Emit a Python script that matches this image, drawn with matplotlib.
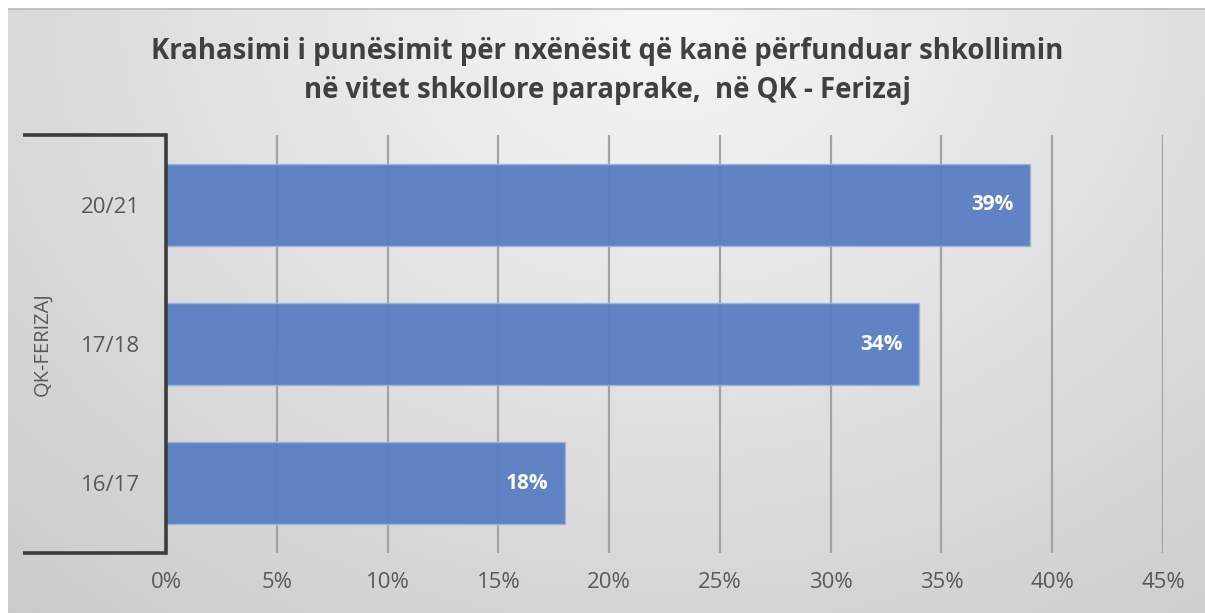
import numpy as np
import matplotlib
matplotlib.use("Agg")
import matplotlib.pyplot as plt

# ---- data ----
categories = ["16/17", "17/18", "20/21"]
values = [18, 34, 39]
xticks = [0, 5, 10, 15, 20, 25, 30, 35, 40, 45]
group_label = "QK-FERIZAJ"
title = "Krahasimi i punësimit për nxënësit që kanë përfunduar shkollimin\nnë vitet shkollore paraprake,  në QK - Ferizaj"

W, H = 1205, 613
fig = plt.figure(figsize=(W / 100, H / 100), dpi=100, facecolor="white")
plt.rcParams['font.family'] = ['Open Sans', 'DejaVu Sans']

# background gradient panel
bg = fig.add_axes([8 / W, 0, 1 - 8 / W, 1 - 8 / H])
bg.set_axis_off()
ny, nx = 300, 600
yy, xx = np.mgrid[0:ny, 0:nx]
cx, cy = nx * 0.55, 0
d = np.sqrt(((xx - cx) / (nx * 0.8)) ** 2 + ((yy - cy) / (ny * 1.3)) ** 2)
d = np.clip(d, 0, 1)
top = np.array([0.965, 0.965, 0.965])
bot = np.array([0.80, 0.80, 0.80])
img = top[None, None, :] * (1 - d[..., None]) + bot[None, None, :] * d[..., None]
bg.imshow(img, aspect="auto", extent=[0, 1, 0, 1], origin="upper")
bg.set_xlim(0, 1)
bg.set_ylim(0, 1)
bg.axhline(0.999, color="#bdbdbd", lw=1.2)

# main axes
left, right = 166 / W, 1163 / W
btm, tp = 1 - 553 / H, 1 - 135 / H
ax = fig.add_axes([left, btm, right - left, tp - btm])
ax.patch.set_alpha(0)

y = np.arange(len(categories))
ax.barh(y, values, height=0.59, color="#5a7fc3", edgecolor="#9db3dc",
        linewidth=1.0, alpha=0.96, zorder=3)
for yi, v in zip(y, values):
    ax.text(v - 0.75, yi, f"{v}%", ha="right", va="center", color="white",
            fontsize=15, fontweight="bold", zorder=4)

ax.set_xlim(0, 45)
ax.set_ylim(-0.5, len(categories) - 0.5)
ax.set_xticks(xticks)
ax.set_xticklabels([f"{t}%" for t in xticks], fontsize=16, color="#595959")
ax.set_yticks(y)
ax.set_yticklabels(categories, fontsize=16, color="#595959")
ax.tick_params(axis="both", length=0)
ax.tick_params(axis="x", pad=14)
ax.tick_params(axis="y", pad=19)
for t in xticks[1:]:
    ax.axvline(t, color="#a3a3a3", lw=1.6, zorder=1)
for s in ["top", "right", "bottom"]:
    ax.spines[s].set_visible(False)
ax.spines["left"].set_color("#3c3c3c")
ax.spines["left"].set_linewidth(2.6)
ax.spines["left"].set_zorder(5)

# bracket lines
x0 = (23 - 166) / (1163 - 166) * 45
for yl in (-0.5, len(categories) - 0.5):
    ax.plot([x0, 0], [yl, yl], color="#3c3c3c", lw=2.6, clip_on=False,
            solid_capstyle="butt", zorder=5)
ax.text(x0 + (42 - 23) / (1163 - 166) * 45, (len(categories) - 1) / 2, group_label,
        rotation=90, ha="center", va="center", fontsize=14.5, color="#595959")

fig.text(607 / W, 1 - 71 / H, title, ha="center", va="center",
         fontsize=19.8, fontweight="bold", color="#404040", linespacing=1.45)

fig.savefig("out.png", dpi=100)
